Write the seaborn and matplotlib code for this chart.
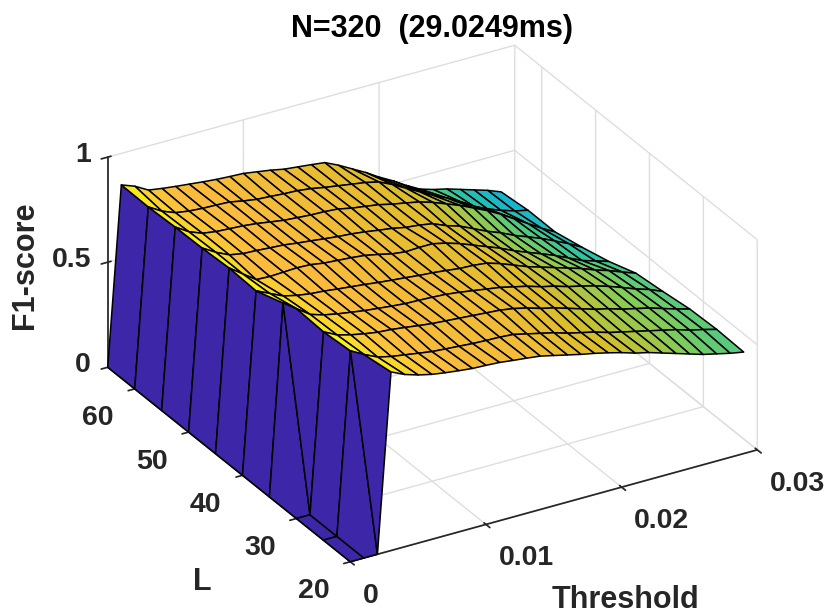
import numpy as np
import matplotlib
matplotlib.use("Agg")
import matplotlib.pyplot as plt
import seaborn as sns

threshold = [i / 1000 for i in range(30)]
L_values = [20, 25, 30, 35, 40, 45, 50, 55, 60, 65]

f1_L20 = [0, 0, 0, .85, .82, .80, .785, .775, .767, .76, .757, .753, .745, .738, .73, .715, .70, .685, .672, .657, .64, .62, .605, .585, .565, .545, .525, .51, .495, .483]
f1_L25 = [0, 0, .865, .83, .80, .785, .775, .765, .755, .75, .745, .74, .737, .735, .73, .715, .70, .685, .665, .65, .635, .615, .60, .585, .57, .555, .54, .52, .505, .488]
f1_L30 = [0, 0, .853, .82, .803, .79, .78, .775, .767, .758, .75, .745, .74, .735, .73, .725, .715, .70, .68, .665, .645, .625, .605, .59, .57, .555, .54, .52, .50, .482]
f1_L35 = [0, .905, .86, .815, .795, .782, .772, .762, .755, .748, .742, .74, .737, .733, .725, .715, .705, .695, .68, .665, .645, .63, .61, .595, .578, .558, .535, .51, .49, .463]
f1_L40 = [0, .86, .83, .80, .785, .775, .77, .762, .755, .748, .74, .733, .727, .72, .715, .708, .70, .697, .69, .67, .645, .62, .60, .58, .56, .54, .515, .495, .47, .447]
f1_L45 = [0, .866, .82, .775, .772, .775, .778, .775, .765, .76, .755, .748, .735, .72, .712, .715, .715, .70, .68, .655, .63, .605, .575, .55, .525, .50, .47, .44, .42, .40]
f1_L50 = [0, .858, .82, .79, .778, .775, .77, .766, .757, .75, .742, .735, .73, .722, .712, .703, .69, .683, .672, .645, .625, .595, .565, .54, .51, .485, .46, .43, .40, .365]
f1_L55 = [0, .855, .815, .79, .78, .776, .772, .765, .755, .745, .74, .735, .733, .728, .714, .705, .695, .68, .668, .655, .635, .61, .585, .555, .525, .49, .45, .41, .37, .335]
f1_L60 = [0, .848, .81, .785, .775, .77, .768, .765, .752, .742, .738, .733, .73, .722, .71, .70, .69, .68, .665, .635, .60, .565, .53, .50, .465, .425, .395, .37, .35, .335]
f1_L65 = [0, .85, .826, .79, .78, .772, .765, .758, .752, .748, .745, .735, .725, .712, .705, .698, .69, .66, .625, .59, .55, .515, .475, .44, .42, .405, .385, .365, .345, .32]

x_ticks = [0, 0.01, 0.02, 0.03]
x_ticklabels = ["0", "0.01", "0.02", "0.03"]
y_ticks = [20, 30, 40, 50, 60]
y_ticklabels = ["20", "30", "40", "50", "60"]
z_ticks = [0, 0.5, 1]
z_ticklabels = ["0", "0.5", "1"]

# parula
parula_stops = ["#3e26a8", "#4752f4", "#1f9fe5", "#10b0d8", "#31c69f", "#81cc59", "#dcbd29", "#fbbb3e", "#f9fb15"]

sns.set_theme(style="whitegrid", rc={"grid.color": "0.87", "grid.linewidth": 1.0})
plt.rcParams["font.family"] = ["Liberation Sans", "DejaVu Sans"]
plt.rcParams["font.weight"] = "bold"
ink = "#262626"

Z = np.array([f1_L20, f1_L25, f1_L30, f1_L35, f1_L40, f1_L45, f1_L50, f1_L55, f1_L60, f1_L65])
X, Y = np.meshgrid(threshold, L_values)

cmap = sns.blend_palette(parula_stops, as_cmap=True)
colors = cmap(np.clip(Z / 0.885, 0, 1))

fig = plt.figure(figsize=(8.3, 6.14), dpi=100)
# square axes as wide as the figure so the surface is not clipped
ax = fig.add_axes([6.3 / 830, -115.7 / 614, 1.0, 830 / 614], projection="3d", proj_type="ortho")
ax.view_init(elev=28, azim=-120.35)
ax.set_box_aspect((471.6, 480, 238), zoom=692.9 / 830)

ax.plot_surface(X, Y, Z, rstride=1, cstride=1, facecolors=colors, edgecolor="black",
                linewidth=1.1, shade=False, antialiased=True)

ax.set_xlim(0, 0.03, view_margin=0)
ax.set_ylim(20, 65, view_margin=0)
ax.set_zlim(0, 1, view_margin=0)
ax.set_xticks(x_ticks)
ax.set_xticklabels(x_ticklabels, ha="left")
ax.set_yticks(y_ticks)
ax.set_yticklabels(y_ticklabels, ha="right")
ax.set_zticks(z_ticks)
ax.set_zticklabels(z_ticklabels, ha="right", va="center")
ax.tick_params(labelsize=20.5, colors=ink)
ax.tick_params(axis="x", pad=8)
ax.tick_params(axis="y", pad=8)
ax.tick_params(axis="z", pad=0)

for axis in [ax.xaxis, ax.yaxis, ax.zaxis]:
    axis.set_pane_color((1, 1, 1, 0))
    axis.pane.set_edgecolor("0.87")
    axis.line.set_color(ink)

fig.text(432 / 830, 1 - 29 / 614, "N=320  (29.0249ms)", ha="center", va="center", fontsize=22, color="black")
fig.text(25 / 830, 1 - 265 / 614, "F1-score", rotation=90, ha="center", va="center", fontsize=22, color=ink)
fig.text(202 / 830, 1 - 582 / 614, "L", ha="center", va="center", fontsize=22, color=ink)
fig.text(625 / 830, 1 - 600 / 614, "Threshold", ha="center", va="center", fontsize=22, color=ink)

fig.savefig("out.png", dpi=100)
